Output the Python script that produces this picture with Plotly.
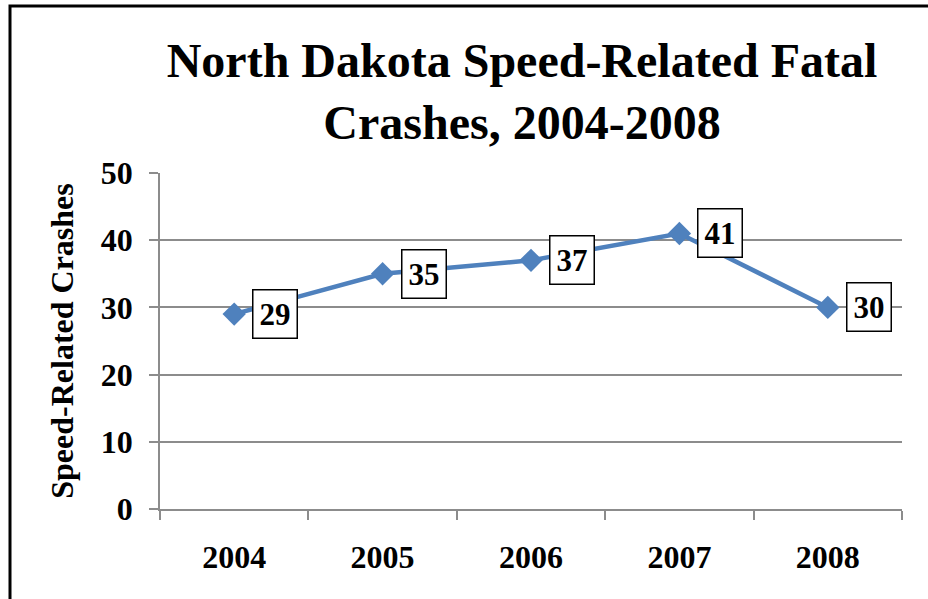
import plotly.graph_objects as go

years = ["2004", "2005", "2006", "2007", "2008"]
crashes = [29, 35, 37, 41, 30]
y_ticks = [0, 10, 20, 30, 40, 50]

title_text = "North Dakota Speed-Related Fatal<br>Crashes, 2004-2008"
y_title = "Speed-Related Crashes"

serif = "Liberation Serif, Times New Roman, serif"
line_color = "#4F81BD"
grid_color = "#8C8C8C"

fig = go.Figure()
fig.add_trace(go.Scatter(
    x=years, y=crashes, mode="lines+markers",
    line=dict(color=line_color, width=4.5),
    marker=dict(symbol="diamond", size=18, color=line_color),
    showlegend=False, hoverinfo="skip",
))

for i, v in enumerate(crashes):
    fig.add_annotation(
        x=i, y=v, xref="x", yref="y", text=f"<b>{v}</b>", showarrow=False,
        xshift=41, font=dict(family=serif, size=31, color="black"),
        bgcolor="white", bordercolor="black", borderwidth=1.5, borderpad=6,
    )

W, H = 928, 599
ml, mr, mt, mb = 160, 26, 173, 90
pw, ph = W - ml - mr, H - mt - mb

def px_x(p):
    return (p - ml) / pw

def px_y(p):
    return (H - mb - p) / ph

fig.add_shape(type="rect", xref="paper", yref="paper",
              x0=px_x(10), x1=px_x(940), y0=px_y(610), y1=px_y(6),
              line=dict(color="black", width=3), fillcolor="rgba(0,0,0,0)", layer="below")

fig.update_layout(
    width=W, height=H,
    margin=dict(l=ml, r=mr, t=mt, b=mb, autoexpand=False),
    paper_bgcolor="white", plot_bgcolor="white",
    title=dict(text=f"<b>{title_text}</b>", x=522 / W, xanchor="center", xref="container",
               y=1 - 77 / H, yanchor="middle", yref="container",
               font=dict(family=serif, size=48, color="black")),
    xaxis=dict(type="category", range=[-0.5, 4.5], tickson="boundaries",
               ticks="outside", ticklen=9, tickcolor=grid_color, tickwidth=1.5,
               showline=True, linecolor=grid_color, linewidth=1.5, showgrid=False,
               tickfont=dict(family=serif, size=32, color="black", weight="bold"),
               ticklabelstandoff=19, automargin=False),
    yaxis=dict(range=[0, 50], tickvals=y_ticks, ticks="outside", ticklen=9,
               tickcolor=grid_color, tickwidth=1.5,
               showline=True, linecolor=grid_color, linewidth=1.5,
               showgrid=True, gridcolor=grid_color, gridwidth=1.5, zeroline=False,
               tickfont=dict(family=serif, size=32, color="black", weight="bold"),
               ticklabelstandoff=10, automargin=False,
               title=dict(text=f"<b>{y_title}</b>", standoff=18,
                          font=dict(family=serif, size=32, color="black"))),
)

fig.write_html("out.html", config={"displayModeBar": False},
               post_script="document.body.style.margin='0';document.body.style.overflow='hidden';")
